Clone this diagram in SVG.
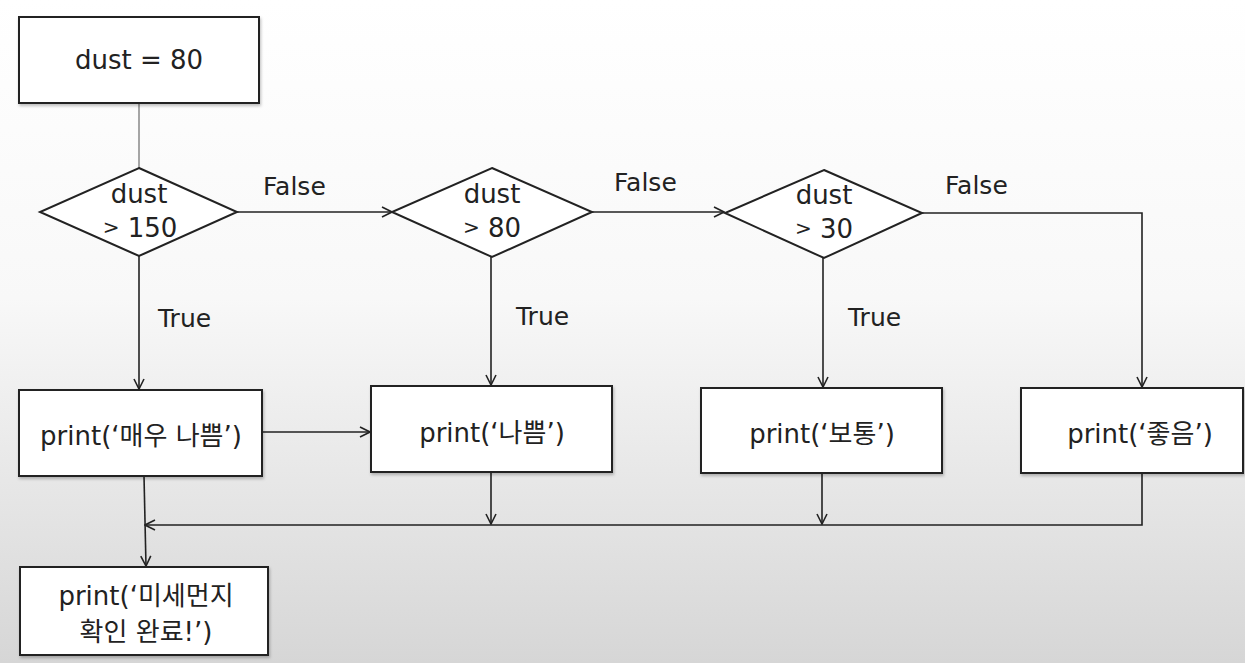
<svg xmlns="http://www.w3.org/2000/svg" width="1245" height="663" viewBox="0 0 1245 663">
<defs>
<linearGradient id="bg" x1="0" y1="0" x2="0" y2="1">
<stop offset="0" stop-color="#ffffff"/>
<stop offset="0.45" stop-color="#f8f8f8"/>
<stop offset="1" stop-color="#d6d6d6"/>
</linearGradient>
<marker id="arr" viewBox="0 0 12 12" refX="11" refY="6" markerWidth="12" markerHeight="12" markerUnits="userSpaceOnUse" orient="auto">
<path d="M1,1 L11,6 L1,11" fill="none" stroke="#222" stroke-width="1.6"/>
</marker>
<filter id="sh" x="-5%" y="-5%" width="110%" height="115%">
<feDropShadow dx="1" dy="2" stdDeviation="1.5" flood-color="#000" flood-opacity="0.25"/>
</filter>
</defs>
<style>
.box{fill:#fff;stroke:#222;stroke-width:2;filter:url(#sh)}
.dia{fill:#fff;stroke:#222;stroke-width:2}
.t{font-family:"DejaVu Sans","Noto Sans CJK KR",sans-serif;font-size:26px;fill:#222;text-anchor:middle}
.lbl{font-family:"DejaVu Sans","Noto Sans CJK KR",sans-serif;font-size:25px;fill:#222;text-anchor:start}
.gt{font-size:20px}
.c{fill:none;stroke:#222;stroke-width:1.6}
</style>
<rect width="1245" height="663" fill="url(#bg)"/>
<g id="connectors">
<line x1="139" y1="104" x2="139" y2="168" stroke="#888" stroke-width="1.5"/>
<line class="c" x1="237" y1="212" x2="392" y2="212" marker-end="url(#arr)"/>
<line class="c" x1="592" y1="212" x2="724" y2="212" marker-end="url(#arr)"/>
<polyline class="c" points="921,213 1142,213 1142,387" marker-end="url(#arr)"/>
<line class="c" x1="139" y1="256" x2="139" y2="389" marker-end="url(#arr)"/>
<line class="c" x1="491" y1="257" x2="491" y2="385" marker-end="url(#arr)"/>
<line class="c" x1="823" y1="258" x2="823" y2="387" marker-end="url(#arr)"/>
<line class="c" x1="262" y1="432" x2="370" y2="432" marker-end="url(#arr)"/>
<line class="c" x1="144" y1="476" x2="146" y2="566" marker-end="url(#arr)"/>
<line class="c" x1="491" y1="472" x2="491" y2="524" marker-end="url(#arr)"/>
<line class="c" x1="822" y1="473" x2="822" y2="524" marker-end="url(#arr)"/>
<polyline class="c" points="1142,473 1142,525 145,525" marker-end="url(#arr)"/>
<text class="lbl" x="263" y="195">False</text>
<text class="lbl" x="614" y="191">False</text>
<text class="lbl" x="945" y="194">False</text>
<text class="lbl" x="158" y="327">True</text>
<text class="lbl" x="516" y="325">True</text>
<text class="lbl" x="848" y="326">True</text>
</g>
<g id="n_start">
<rect class="box" x="19" y="17" width="240" height="86"/>
<text class="t" x="139" y="69">dust = 80</text>
</g>
<g id="n_d150">
<polygon class="dia" points="139,168 237,212 139,256 40,212"/>
<text class="t" x="139" y="203">dust</text>
<text class="t" x="140" y="237"><tspan class="gt" dy="-3">&gt;</tspan><tspan dy="3"> 150</tspan></text>
</g>
<g id="n_d80">
<polygon class="dia" points="492,168 592,212 492,257 392,212"/>
<text class="t" x="492" y="203">dust</text>
<text class="t" x="492" y="237"><tspan class="gt" dy="-3">&gt;</tspan><tspan dy="3"> 80</tspan></text>
</g>
<g id="n_d30">
<polygon class="dia" points="824,170 922,213 824,258 725,213"/>
<text class="t" x="824" y="204">dust</text>
<text class="t" x="824" y="238"><tspan class="gt" dy="-3">&gt;</tspan><tspan dy="3"> 30</tspan></text>
</g>
<g id="n_verybad">
<rect class="box" x="19" y="390" width="243" height="86"/>
<text class="t" x="141" y="445">print(‘매우 나쁨’)</text>
</g>
<g id="n_bad">
<rect class="box" x="371" y="386" width="241" height="86"/>
<text class="t" x="492" y="442">print(‘나쁨’)</text>
</g>
<g id="n_normal">
<rect class="box" x="701" y="388" width="241" height="85"/>
<text class="t" x="822" y="443">print(‘보통’)</text>
</g>
<g id="n_good">
<rect class="box" x="1021" y="388" width="222" height="85"/>
<text class="t" x="1140" y="443">print(‘좋음’)</text>
</g>
<g id="n_done">
<rect class="box" x="20" y="567" width="248" height="88"/>
<text class="t" x="146" y="605">print(‘미세먼지</text>
<text class="t" x="146" y="641">확인 완료!’)</text>
</g>
</svg>
